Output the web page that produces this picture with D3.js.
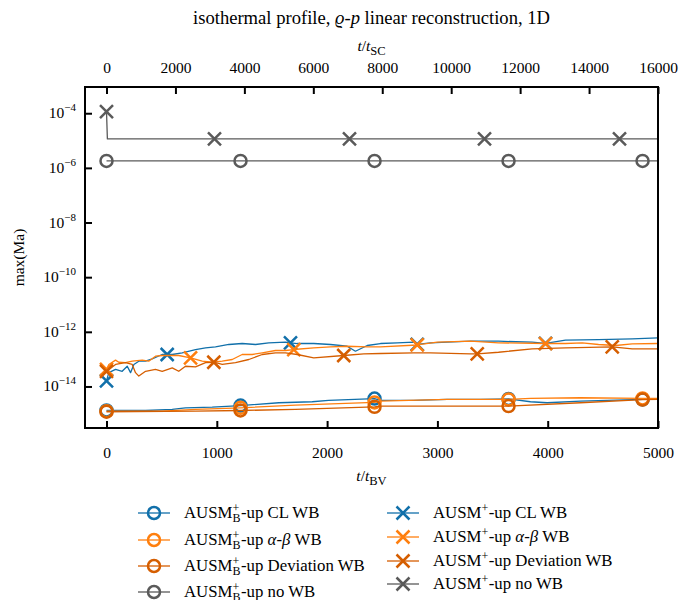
<!DOCTYPE html>
<html>
<head>
<meta charset="utf-8">
<script src="https://cdn.jsdelivr.net/npm/d3@7"></script>
<style>
  html, body { margin: 0; padding: 0; background: #fff; }
  svg text { font-family: "Liberation Serif", "DejaVu Serif", serif; fill: #000; }
</style>
</head>
<body>
<svg id="chart" width="680" height="600"></svg>
<script>
// ---- data: max(Ma) over time t/t_BV ----
// AUSM+_B-up variants (circle markers)
const bCL_t   = [0, 354, 596, 716, 958, 1215, 1562, 1865, 2013, 2430, 2484, 2786, 3089, 3391, 3645, 3844, 3995, 4297, 4860, 5000];
const bCL_v   = [1.32e-15, 1.32e-15, 1.44e-15, 1.66e-15, 1.75e-15, 2.0e-15, 2.54e-15, 2.76e-15, 3.08e-15, 3.6e-15, 3.08e-15, 3.08e-15, 3.35e-15, 3.35e-15, 3.5e-15, 2.76e-15, 2.54e-15, 2.9e-15, 3.35e-15, 3.35e-15];
const bAB_t   = [0, 505, 807, 1215, 1713, 2430, 2484, 3089, 3645, 3844, 4297, 4860, 5000];
const bAB_v   = [1.25e-15, 1.25e-15, 1.44e-15, 1.66e-15, 2.07e-15, 2.6e-15, 2.9e-15, 3.35e-15, 3.35e-15, 3.64e-15, 3.87e-15, 3.64e-15, 3.64e-15];
const bDev_t  = [0, 807, 1215, 1713, 2430, 2484, 3645, 4297, 4860, 5000];
const bDev_v  = [1.19e-15, 1.25e-15, 1.32e-15, 1.44e-15, 1.8e-15, 1.91e-15, 1.91e-15, 2.54e-15, 3.3e-15, 3.35e-15];
const bNo_t   = [0, 1215, 2430, 3645, 4860, 5000];
const bNo_v   = [1.8e-6, 1.8e-6, 1.8e-6, 1.8e-6, 1.8e-6, 1.8e-6];
const bMarks  = [0, 1215, 2430, 3645, 4860];

// AUSM+-up variants (x markers)
const pCL_t   = [0, 21, 82, 142, 188, 218, 248, 293, 354, 414, 505, 550, 596, 686, 807, 898, 988, 1109, 1230, 1351, 1471, 1623, 1668, 1729, 1879, 2031, 2182, 2257, 2364, 2484, 2636, 2786, 2817, 2937, 3089, 3300, 3554, 3859, 3980, 4161, 4461, 4766, 5000];
const pCL_v   = [1.6e-14, 3.2e-14, 4.2e-14, 3.6e-14, 5.5e-14, 3.2e-14, 6.4e-14, 8.4e-14, 8.4e-14, 1.03e-13, 1.48e-13, 1.48e-13, 1.48e-13, 1.71e-13, 2.25e-13, 2.6e-13, 2.83e-13, 3.44e-13, 3.73e-13, 3.44e-13, 3.96e-13, 4.17e-13, 3.96e-13, 3.73e-13, 3.73e-13, 3.44e-13, 2.97e-13, 1.95e-13, 3.16e-13, 3.73e-13, 3.96e-13, 4.2e-13, 3.5e-13, 3.96e-13, 4.17e-13, 4.53e-13, 4.53e-13, 4.17e-13, 3.8e-13, 4.93e-13, 5.22e-13, 5.55e-13, 6.04e-13];
const pCL_m   = [0, 550, 1668, 2817, 3980];
const pAB_t   = [0, 21, 82, 111, 172, 233, 324, 383, 444, 505, 655, 762, 868, 958, 1049, 1140, 1230, 1321, 1412, 1532, 1623, 1698, 1879, 2031, 2182, 2364, 2484, 2817, 2998, 3300, 3554, 3980, 4161, 4313, 4461, 4615, 4766, 5000];
const pAB_v   = [4.2e-14, 6.4e-14, 9.2e-14, 7.7e-14, 7.4e-14, 8.4e-14, 9.2e-14, 8.4e-14, 1.28e-13, 1.36e-13, 1.36e-13, 1.12e-13, 8.4e-14, 7.7e-14, 8.4e-14, 9.7e-14, 1.48e-13, 1.48e-13, 1.71e-13, 2.07e-13, 2.07e-13, 2.25e-13, 2.6e-13, 2.83e-13, 2.97e-13, 2.83e-13, 2.83e-13, 3.3e-13, 4.17e-13, 4.53e-13, 3.96e-13, 3.73e-13, 3.73e-13, 3.96e-13, 3.44e-13, 3.16e-13, 3.64e-13, 3.73e-13];
const pAB_m   = [0, 762, 1698, 2817, 3980];
const pDev_t  = [0, 82, 172, 233, 263, 293, 354, 444, 505, 596, 655, 716, 807, 898, 973, 1049, 1170, 1290, 1412, 1532, 1623, 1729, 1879, 2151, 2333, 2484, 2786, 2937, 3300, 3361, 3554, 3859, 4161, 4585, 4766, 5000];
const pDev_v  = [3.6e-14, 6.4e-14, 7.4e-14, 6.4e-14, 3.2e-14, 2.4e-14, 3.6e-14, 4.2e-14, 3.6e-14, 4.8e-14, 3.6e-14, 5.5e-14, 5.2e-14, 7.4e-14, 7.7e-14, 6.4e-14, 7.4e-14, 9.7e-14, 1.48e-13, 1.71e-13, 1.71e-13, 1.48e-13, 1.12e-13, 1.36e-13, 1.57e-13, 1.61e-13, 1.71e-13, 1.71e-13, 1.57e-13, 1.57e-13, 1.79e-13, 2.39e-13, 2.6e-13, 2.83e-13, 2.39e-13, 2.39e-13];
const pDev_m  = [0, 973, 2151, 3361, 4585];
const pNo_t   = [0, 8, 979, 2203, 3427, 4651, 5000];
const pNo_v   = [1.14e-4, 1.15e-5, 1.15e-5, 1.15e-5, 1.15e-5, 1.15e-5, 1.15e-5];
const pNo_m   = [0, 979, 2203, 3427, 4651];

// axis ticks
const xTicksBV = [0, 1000, 2000, 3000, 4000, 5000];
const xTicksSC = [0, 2000, 4000, 6000, 8000, 10000, 12000, 14000, 16000];
const yTickExp = [-4, -6, -8, -10, -12, -14];
const scPerBV = 3.2;

const colBlue = "#1170aa", colOrange = "#ff7f0e", colDark = "#d55e00", colGray = "#5a5a5a";

const series = [
  {t: bCL_t,  v: bCL_v,  m: bMarks, color: colBlue,   marker: "o", label: ["CL WB"]},
  {t: bAB_t,  v: bAB_v,  m: bMarks, color: colOrange, marker: "o", label: ["", "α-β", " WB"]},
  {t: bDev_t, v: bDev_v, m: bMarks, color: colDark,   marker: "o", label: ["Deviation WB"]},
  {t: bNo_t,  v: bNo_v,  m: bMarks, color: colGray,   marker: "o", label: ["no WB"]},
  {t: pCL_t,  v: pCL_v,  m: pCL_m,  color: colBlue,   marker: "x", label: ["CL WB"]},
  {t: pAB_t,  v: pAB_v,  m: pAB_m,  color: colOrange, marker: "x", label: ["", "α-β", " WB"]},
  {t: pDev_t, v: pDev_v, m: pDev_m, color: colDark,   marker: "x", label: ["Deviation WB"]},
  {t: pNo_t,  v: pNo_v,  m: pNo_m,  color: colGray,   marker: "x", label: ["no WB"]}
];

// ---- layout ----
const L = 85, R = 658, T = 87, B = 428;
const fs = 15.5;

const x = d3.scaleLinear().domain([-195, 5000]).range([L, R]);
const xTop = d3.scaleLinear().domain([-195 * scPerBV, 5000 * scPerBV]).range([L, R]);
const y = d3.scaleLog().domain([Math.pow(10, -15.52), Math.pow(10, -3.04)]).range([B, T]);

const svg = d3.select("#chart");

// title
const title = svg.append("text").attr("x", (L + R) / 2).attr("y", 24)
  .attr("text-anchor", "middle").style("font-size", "18.6px");
title.append("tspan").text("isothermal profile, ");
title.append("tspan").style("font-style", "italic").text("ϱ");
title.append("tspan").text("-");
title.append("tspan").style("font-style", "italic").text("p");
title.append("tspan").text(" linear reconstruction, 1D");

// clip region for data
svg.append("clipPath").attr("id", "plotclip")
  .append("rect").attr("x", L).attr("y", T).attr("width", R - L).attr("height", B - T);

const plot = svg.append("g").attr("clip-path", "url(#plotclip)");

const line = d3.line().x(d => x(d[0])).y(d => y(d[1]));

function drawMarker(g, type, cx, cy, color) {
  if (type === "o") {
    g.append("circle").attr("cx", cx).attr("cy", cy).attr("r", 6)
      .attr("fill", "none").attr("stroke", color).attr("stroke-width", 2.5);
  } else {
    const s = 6.5;
    g.append("path")
      .attr("d", `M${cx - s},${cy - s}L${cx + s},${cy + s}M${cx - s},${cy + s}L${cx + s},${cy - s}`)
      .attr("fill", "none").attr("stroke", color).attr("stroke-width", 2.5);
  }
}

series.forEach(s => {
  const pts = s.t.map((t, i) => [t, s.v[i]]);
  const g = plot.append("g");
  g.append("path").attr("d", line(pts)).attr("fill", "none")
    .attr("stroke", s.color).attr("stroke-width", 1.3).attr("stroke-linejoin", "round");
  s.m.forEach(mt => {
    const p = pts.find(d => d[0] === mt);
    if (p) drawMarker(g, s.marker, x(p[0]), y(p[1]), s.color);
  });
});

// frame
svg.append("rect").attr("x", L).attr("y", T).attr("width", R - L).attr("height", B - T)
  .attr("fill", "none").attr("stroke", "#000").attr("stroke-width", 2);

// bottom axis (inward ticks)
const axB = svg.append("g").attr("transform", `translate(0,${B})`)
  .call(d3.axisBottom(x).tickValues(xTicksBV).tickFormat(d3.format("d")).tickSizeInner(-7).tickSizeOuter(0));
axB.select(".domain").remove();
axB.selectAll(".tick line").attr("stroke-width", 2);
axB.selectAll(".tick text").attr("dy", null).attr("y", 30).style("font-size", fs + "px")
  .attr("font-family", null);

// top axis (inward ticks)
const axT = svg.append("g").attr("transform", `translate(0,${T})`)
  .call(d3.axisTop(xTop).tickValues(xTicksSC).tickFormat(d3.format("d")).tickSizeInner(-7).tickSizeOuter(0));
axT.select(".domain").remove();
axT.selectAll(".tick line").attr("stroke-width", 2);
axT.selectAll(".tick text").attr("dy", null).attr("y", -14).style("font-size", fs + "px")
  .attr("font-family", null);

// left axis (inward ticks, power-of-ten labels)
const axLg = svg.append("g").attr("transform", `translate(${L},0)`)
  .call(d3.axisLeft(y).tickValues(yTickExp.map(e => Math.pow(10, e))).tickFormat(() => "").tickSizeInner(-7).tickSizeOuter(0));
axLg.select(".domain").remove();
axLg.selectAll(".tick line").attr("stroke-width", 2);
yTickExp.forEach(e => {
  const ty = y(Math.pow(10, e));
  const tx = svg.append("text").attr("x", 76).attr("y", ty + 5).attr("text-anchor", "end")
    .style("font-size", fs + "px");
  tx.append("tspan").text("10");
  tx.append("tspan").attr("dy", -7).style("font-size", "11px").text("−" + Math.abs(e));
});

// axis labels
svg.append("text").attr("transform", `translate(24,${(T + B) / 2}) rotate(-90)`)
  .attr("text-anchor", "middle").style("font-size", fs + "px").text("max(Ma)");

function timeLabel(cx, cy, sub) {
  const t = svg.append("text").attr("x", cx).attr("y", cy).attr("text-anchor", "middle")
    .style("font-size", fs + "px");
  t.append("tspan").style("font-style", "italic").text("t");
  t.append("tspan").text("/");
  t.append("tspan").style("font-style", "italic").text("t");
  t.append("tspan").attr("dy", 4).style("font-size", "12.5px").text(sub);
}
timeLabel((L + R) / 2, 51, "SC");
timeLabel((L + R) / 2, 481, "BV");

// legend: one text element per entry, script parts as tspans
const lfs = 16.8, sfs = 12;
function legendEntry(s, hx, ty, withB) {
  const g = svg.append("g");
  g.append("line").attr("x1", hx).attr("x2", hx + 32).attr("y1", ty).attr("y2", ty)
    .attr("stroke", s.color).attr("stroke-width", 1.3);
  drawMarker(g, s.marker, hx + 16, ty, s.color);
  const txt = g.append("text").attr("x", hx + 46).attr("y", ty + 5).style("font-size", lfs + "px");
  txt.append("tspan").text("AUSM");
  const plus = txt.append("tspan").attr("dy", -6).style("font-size", sfs + "px").text("+");
  if (withB) {
    const pw = plus.node().getComputedTextLength();
    const bw = sfs * 0.667;
    txt.append("tspan").attr("dx", -pw).attr("dy", 10).style("font-size", sfs + "px").text("B");
    txt.append("tspan").attr("dx", Math.max(0, pw - bw) + 0.5).attr("dy", -4).text("-up ");
  } else {
    txt.append("tspan").attr("dx", 0.5).attr("dy", 6).text("-up ");
  }
  const parts = s.label;
  if (parts.length === 1) {
    txt.append("tspan").text(parts[0]);
  } else {
    txt.append("tspan").style("font-style", "italic").text(parts[1]);
    txt.append("tspan").text(parts[2]);
  }
}
const leftRows = [513, 540, 566, 592];
const rightRows = [513, 537, 561, 584];
series.slice(0, 4).forEach((s, i) => legendEntry(s, 138, leftRows[i], true));
series.slice(4).forEach((s, i) => legendEntry(s, 387, rightRows[i], false));
</script>
</body>
</html>
